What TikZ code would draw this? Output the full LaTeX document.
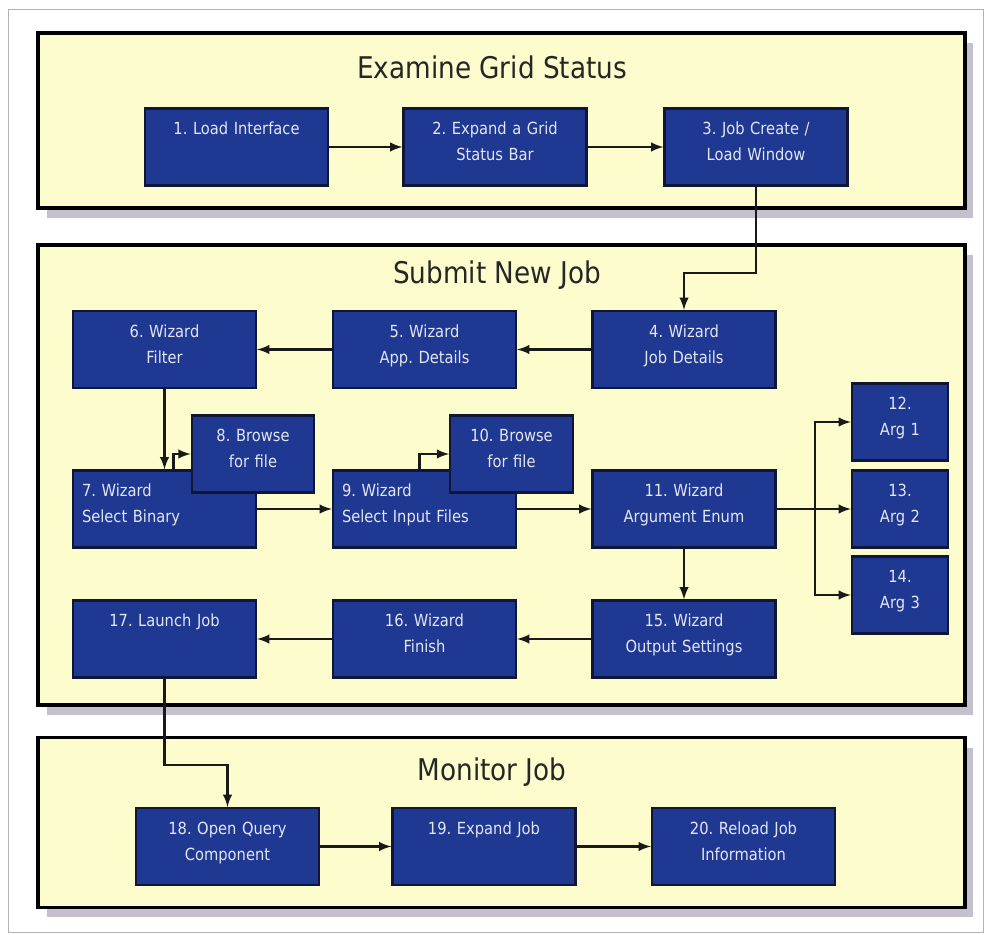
\documentclass[tikz,border=0pt]{standalone}
\usepackage{fontspec}
\usepackage{xcolor}
\usepackage{tikz}
\usetikzlibrary{positioning,%
  arrows,%
  shadows,%
  calc
}
\newfontfamily\wizfont[FakeStretch=0.88]{DejaVu Sans}
\frenchspacing
\definecolor{boxblue}{RGB}{31,56,146}
\definecolor{boxline}{RGB}{16,22,54}
\definecolor{boxtext}{RGB}{226,230,242}
\definecolor{panelyellow}{RGB}{253,252,204}
\definecolor{shadowgray}{RGB}{196,192,206}
\tikzset{
  wizbox/.style={draw=boxline,fill=boxblue,line width=1.3pt,text=boxtext,
    minimum width=3.66cm,minimum height=1.54cm,text width=3.3cm,align=center,
    inner sep=0pt,text height=0.52cm,text depth=1.02cm,
    font=\wizfont\fontsize{9.5}{15}\selectfont},
  smallbox/.style={wizbox,minimum width=2.45cm,text width=2.2cm},
  argbox/.style={wizbox,minimum width=1.92cm,text width=1.7cm},
  panel/.style={draw=black,line width=2.2pt,fill=panelyellow,
    minimum width=18.54cm,inner sep=0pt,
    drop shadow={shadow xshift=0.17cm,shadow yshift=-0.2cm,fill=shadowgray,opacity=1}},
  paneltitle/.style={text=black!85,font=\wizfont\fontsize{17}{20}\selectfont},
  conn/.style={->,line width=1.4pt,black!90}
}
\begin{document}
\begin{tikzpicture}[x=0.02cm,y=-0.02cm,>=latex]
    \useasboundingbox (0,0) rectangle (986,935);
    \draw[gray!60] (8,9) rectangle (983,932);

    \node[panel,minimum height=3.5cm] (p1) at (501.5,120.5) {};
    \node[panel,minimum height=9.2cm] (p2) at (501.5,475) {};
    \node[panel,minimum height=3.4cm] (p3) at (501.5,822.5) {};
    \node[paneltitle] (t1) at (492,67) {Examine Grid Status};
    \node[paneltitle] (t2) at (497,275) {Submit New Job};
    \node[paneltitle] (t3) at (492,772) {Monitor Job};

    \node[wizbox] (b1) at (236.5,147) {1. Load Interface};
    \node[wizbox] (b2) at (495,147) {2. Expand a Grid\\Status Bar};
    \node[wizbox] (b3) at (756,147) {3. Job Create /\\Load Window};

    \node[wizbox] (b4) at (684,349.5) {4. Wizard\\Job Details};
    \node[wizbox] (b5) at (424.5,349.5) {5. Wizard\\App. Details};
    \node[wizbox] (b6) at (164.5,349.5) {6. Wizard\\Filter};
    \node[wizbox,align=left] (b7) at (164.5,509) {7. Wizard\\Select Binary};
    \node[smallbox] (b8) at (253,454) {8. Browse\\for file};
    \node[wizbox,align=left] (b9) at (424.5,509) {9. Wizard\\Select Input Files};
    \node[smallbox] (b10) at (511.5,454) {10. Browse\\for file};
    \node[wizbox] (b11) at (684,509) {11. Wizard\\Argument Enum};
    \node[argbox] (b12) at (900,422) {12.\\Arg 1};
    \node[argbox] (b13) at (900,509) {13.\\Arg 2};
    \node[argbox] (b14) at (900,595) {14.\\Arg 3};
    \node[wizbox] (b15) at (684,639) {15. Wizard\\Output Settings};
    \node[wizbox] (b16) at (424.5,639) {16. Wizard\\Finish};
    \node[wizbox] (b17) at (164.5,639) {17. Launch Job};

    \node[wizbox] (b18) at (227.5,846.5) {18. Open Query\\Component};
    \node[wizbox] (b19) at (484,846.5) {19. Expand Job};
    \node[wizbox] (b20) at (743.5,846.5) {20. Reload Job\\Information};

    \foreach \a/\b in {b1/b2,b2/b3,b4/b5,b5/b6,b6/b7,b7/b9,b9/b11,b11/b15,
        b15/b16,b16/b17,b18/b19,b19/b20}
        \draw[conn] (\a) -- (\b);

    \coordinate (bend3) at (756,273);
    \draw[conn] (b3.south) -- (bend3) -| (b4.north);
    \draw[conn] ([xshift=0.18cm]b7.north) |- (b8.west);
    \draw[conn] ([xshift=-0.1cm]b9.north) |- (b10.west);
    \coordinate (fork) at (815,509);
    \draw[conn] (b11.east) -- (fork) |- (b12.west);
    \draw[conn] (fork) -- (b13.west);
    \draw[conn] (fork) |- (b14.west);
    \coordinate (bend17) at (164.5,765);
    \draw[conn] (b17.south) -- (bend17) -| (b18.north);
\end{tikzpicture}
\end{document}
